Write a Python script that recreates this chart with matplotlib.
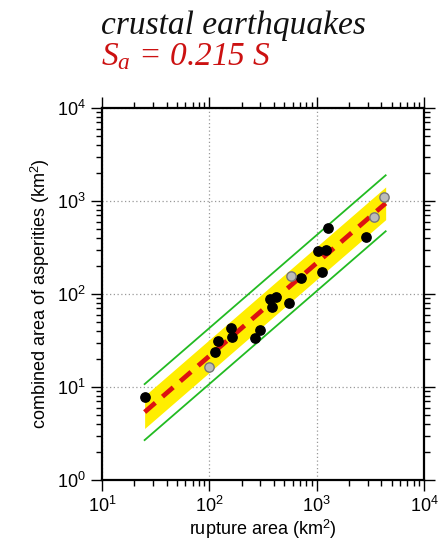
import numpy as np
import matplotlib
matplotlib.use('Agg')
import matplotlib.pyplot as plt
import matplotlib.ticker as mticker

# observed events: rupture area S (km^2) and combined asperity area Sa (km^2)
black_S  = [25.1, 113, 120, 161, 163, 266, 300, 366, 383, 417, 551, 717, 1030, 1135, 1220, 1290, 2870]
black_Sa = [7.87, 23.6, 31.3, 42.8, 34.2, 33.4, 41.0, 88.0, 73.0, 92.0, 79.4, 150, 290, 171, 297, 516, 410]
gray_S   = [99, 575, 3440, 4250]
gray_Sa  = [16.3, 156, 668, 1110]

coef = 0.215
band_factor = 1.5
green_factor = 2.0
fit_S = [25.0, 4400.0]

xticks = [1e1, 1e2, 1e3, 1e4]
yticks = [1e0, 1e1, 1e2, 1e3, 1e4]

plt.rcParams['mathtext.fontset'] = 'custom'
plt.rcParams['mathtext.it'] = 'Liberation Serif:italic'
plt.rcParams['mathtext.rm'] = 'Liberation Serif'
plt.rcParams['mathtext.sf'] = 'Liberation Sans'

fig = plt.figure(figsize=[4.47, 5.43], dpi=100)
ax = fig.add_axes([0.228, 0.116, 0.7204, 0.685])

xs = np.array(fit_S)
ys = coef * xs
ax.fill_between(xs, ys / band_factor, ys * band_factor, color='#ffee00', lw=0, zorder=1)
ax.plot(xs, ys * green_factor, color='#22bb22', lw=1.3, zorder=2)
ax.plot(xs, ys / green_factor, color='#22bb22', lw=1.3, zorder=2)
ax.plot(xs, ys, color='#dd1111', lw=3.4, ls=(0, (3, 2)), zorder=3)

ax.scatter(black_S, black_Sa, s=45, color='black', zorder=4)
ax.scatter(gray_S, gray_Sa, s=45, facecolor='#bbbbbb', edgecolor='#777777', lw=1.0, zorder=4)

ax.set_xscale('log')
ax.set_yscale('log')
ax.set_xlim(1e1, 1e4)
ax.set_ylim(1e0, 1e4)

ax.xaxis.set_major_locator(mticker.FixedLocator(xticks))
ax.yaxis.set_major_locator(mticker.FixedLocator(yticks))
ax.xaxis.set_minor_locator(mticker.LogLocator(base=10, subs=np.arange(2, 10)))
ax.yaxis.set_minor_locator(mticker.LogLocator(base=10, subs=np.arange(2, 10)))
ax.xaxis.set_minor_formatter(mticker.NullFormatter())
ax.yaxis.set_minor_formatter(mticker.NullFormatter())
ax.xaxis.set_major_formatter(mticker.FuncFormatter(lambda v, p: '$\\mathsf{10^{%d}}$' % round(np.log10(v))))
ax.yaxis.set_major_formatter(mticker.FuncFormatter(lambda v, p: '$\\mathsf{10^{%d}}$' % round(np.log10(v))))

ax.tick_params(which='both', direction='out', top=True, right=True, width=1.0)
ax.tick_params(which='major', length=8, labelsize=13)
ax.tick_params(which='minor', length=4)
for sp in ax.spines.values():
    sp.set_linewidth(1.6)

ax.grid(which='major', color='#999999', ls=(0, (1, 2)), lw=0.9)
ax.set_axisbelow(True)

ax.set_xlabel('rupture area (km$^{\\mathsf{2}}$)', fontsize=13, labelpad=1, family='Liberation Sans')
ax.set_ylabel('combined area of asperities (km$^{\\mathsf{2}}$)', fontsize=13, labelpad=4,
              family='Liberation Sans')

fig.text(0.226, 0.952, 'crustal earthquakes', family='Liberation Serif', style='italic',
         fontsize=24, color='#111111', va='center')
fig.text(0.226, 0.895, '$S_a$ = 0.215 $S$', family='Liberation Serif', style='italic',
         fontsize=24, color='#cc1111', va='center')

fig.savefig('out.png', dpi=100)
